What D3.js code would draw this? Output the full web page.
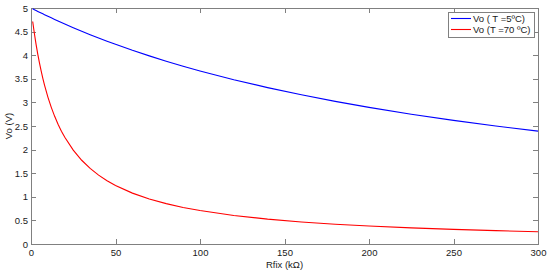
<!DOCTYPE html>
<html><head><meta charset="utf-8">
<script src="https://cdn.jsdelivr.net/npm/d3@7"></script>
<style>body{margin:0;background:#fff}svg text{font-family:"Liberation Sans",Arial,sans-serif}</style>
</head><body>
<svg id="c" width="550" height="272"></svg>
<script>
const rfix = [1,2,3,4,5,6,7,8,10,12,14,16,18,20,25,30,35,40,45,50,60,70,80,90,100,120,140,160,180,200,225,250,275,300];
const vo5 = [4.982,4.964,4.946,4.928,4.911,4.893,4.876,4.859,4.825,4.791,4.758,4.725,4.693,4.661,4.583,4.508,4.435,4.365,4.297,4.231,4.104,3.986,3.873,3.767,3.667,3.481,3.313,3.161,3.022,2.895,2.750,2.619,2.500,2.391];
const vo70 = [4.714,4.459,4.231,4.024,3.837,3.667,3.511,3.367,3.113,2.895,2.705,2.538,2.391,2.260,1.988,1.774,1.602,1.460,1.341,1.241,1.078,0.954,0.855,0.775,0.708,0.604,0.527,0.467,0.420,0.381,0.342,0.310,0.283,0.261];
const xTicks = [0,50,100,150,200,250,300];
const yTicks = [0,0.5,1,1.5,2,2.5,3,3.5,4,4.5,5];
const seriesNames = ["Vo ( T =5ºC)", "Vo (T =70 ºC)"];
const seriesColors = ["#0000ff", "#ff0000"];

const L=31, R=538, T=8, B=244;
const svg = d3.select("#c");
const x = d3.scaleLinear().domain([0,300]).range([L,R]);
const y = d3.scaleLinear().domain([0,5]).range([B,T]);
const axisCol = "#808080", txtCol = "#1a1a1a";

// box
svg.append("rect").attr("x",L).attr("y",T).attr("width",R-L).attr("height",B-T)
  .attr("fill","none").attr("stroke",axisCol).attr("stroke-width",1).attr("shape-rendering","crispEdges");

const tl = 5;
function styleAxis(g){
  g.select(".domain").remove();
  g.selectAll(".tick line").attr("stroke",axisCol).attr("shape-rendering","crispEdges");
  g.selectAll(".tick text").attr("fill",txtCol).style("font-size","9.5px");
}
svg.append("g").attr("transform",`translate(0,${B})`)
  .call(d3.axisBottom(x).tickValues(xTicks).tickSize(-tl).tickPadding(5).tickFormat(d3.format("d")))
  .call(styleAxis);
svg.append("g").attr("transform",`translate(0,${T})`)
  .call(d3.axisTop(x).tickValues(xTicks).tickSize(-tl).tickFormat(""))
  .call(styleAxis);
svg.append("g").attr("transform",`translate(${L},0)`)
  .call(d3.axisLeft(y).tickValues(yTicks).tickSize(-tl).tickPadding(3).tickFormat(d=>String(d)))
  .call(styleAxis);
svg.append("g").attr("transform",`translate(${R},0)`)
  .call(d3.axisRight(y).tickValues(yTicks).tickSize(-tl).tickFormat(""))
  .call(styleAxis);

const line = (vals)=>d3.line().x((d,i)=>x(rfix[i])).y(d=>y(d))(vals);
[vo5, vo70].forEach((vals,k)=>{
  svg.append("path").attr("d",line(vals)).attr("fill","none")
    .attr("stroke",seriesColors[k]).attr("stroke-width",1.1);
});

// labels
svg.append("text").attr("x",(L+R)/2).attr("y",268).attr("text-anchor","middle")
  .attr("fill",txtCol).style("font-size","9.5px").text("Rfix (kΩ)");
svg.append("text").attr("transform",`translate(12,${(T+B)/2}) rotate(-90)`).attr("text-anchor","middle")
  .attr("fill",txtCol).style("font-size","9.5px").text("Vo (V)");

// legend
const lg = svg.append("g");
lg.append("rect").attr("x",448.5).attr("y",12.5).attr("width",86).attr("height",25)
  .attr("fill","#fff").attr("stroke",axisCol).attr("shape-rendering","crispEdges");
seriesNames.forEach((n,k)=>{
  const yy = 18.5 + k*11;
  lg.append("line").attr("x1",451).attr("x2",471).attr("y1",yy).attr("y2",yy)
    .attr("stroke",seriesColors[k]).attr("stroke-width",1.1);
  lg.append("text").attr("x",473).attr("y",yy+3.5).attr("fill",txtCol)
    .style("font-size","9.5px").text(n);
});
</script>
</body></html>
